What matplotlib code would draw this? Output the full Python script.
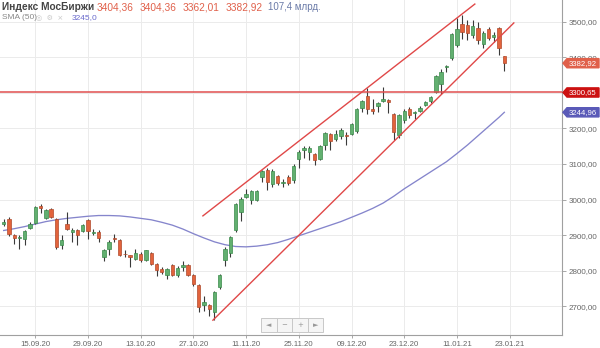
import matplotlib
matplotlib.use('Agg')
import matplotlib.pyplot as plt
from matplotlib.patches import Polygon, Rectangle

plt.rcParams['font.family'] = ['Liberation Sans', 'DejaVu Sans']

# ---------------- data ----------------
idx = list(range(-6, 90))
opens = [2930, 2946, 2899, 2891, 2890, 2920, 2935, 2983, 2949, 2974,
         2946, 2872, 2932, 2910, 2913, 2912, 2943, 2906, 2910, 2838,
         2861, 2893, 2885, 2848, 2843, 2834, 2847, 2830, 2850, 2819,
         2806, 2789, 2815, 2788, 2810, 2816, 2787, 2760, 2705, 2703,
         2685, 2754, 2829, 2850, 2913, 2964, 3007, 2998, 3000, 3063,
         3083, 3043, 3065, 3048, 3064, 3054, 3114, 3140, 3133, 3128,
         3114, 3152, 3184, 3170, 3177, 3182, 3184, 3192, 3258, 3292,
         3254, 3264, 3278, 3280, 3241, 3180, 3222, 3255, 3243, 3250,
         3266, 3276, 3301, 3325, 3372, 3397, 3435, 3494, 3491, 3461,
         3481, 3437, 3478, 3456, 3481, 3404.36]
highs = [2945, 2950, 2903, 2900, 2914, 2936, 2981, 2988, 2974, 2976,
         2948, 2899, 2964, 2920, 2916, 2932, 2946, 2918, 2913, 2860,
         2885, 2903, 2888, 2857, 2845, 2861, 2852, 2859, 2853, 2822,
         2810, 2808, 2818, 2812, 2826, 2819, 2790, 2762, 2730, 2706,
         2742, 2792, 2866, 2897, 2991, 3007, 3030, 3028, 3028, 3083,
         3088, 3085, 3070, 3058, 3068, 3100, 3138, 3149, 3150, 3132,
         3152, 3190, 3188, 3194, 3201, 3190, 3215, 3258, 3280, 3314,
         3282, 3275, 3316, 3283, 3244, 3240, 3255, 3260, 3250, 3262,
         3278, 3292, 3350, 3367, 3378, 3468, 3509, 3517, 3503, 3503,
         3498, 3472, 3484, 3470, 3484, 3404.36]
lows = [2925, 2897, 2876, 2862, 2873, 2916, 2932, 2963, 2946, 2948,
        2861, 2862, 2914, 2880, 2871, 2908, 2890, 2899, 2882, 2828,
        2845, 2882, 2841, 2838, 2810, 2829, 2824, 2826, 2815, 2786,
        2791, 2777, 2784, 2782, 2800, 2786, 2758, 2684, 2688, 2672,
        2662, 2750, 2812, 2838, 2908, 2941, 3004, 2988, 2995, 3049,
        3027, 3035, 3041, 3035, 3040, 3046, 3089, 3117, 3110, 3096,
        3110, 3140, 3140, 3165, 3170, 3152, 3180, 3188, 3245, 3240,
        3239, 3245, 3273, 3242, 3168, 3173, 3215, 3230, 3226, 3245,
        3262, 3270, 3298, 3297, 3358, 3393, 3428, 3451, 3447, 3455,
        3437, 3425, 3448, 3442, 3405, 3362.01]
closes = [2936, 2904, 2891, 2896, 2911, 2931, 2978, 2976, 2971, 2951,
          2866, 2885, 2918, 2914, 2899, 2929, 2911, 2909, 2891, 2857,
          2882, 2890, 2845, 2846, 2839, 2850, 2829, 2857, 2819, 2803,
          2797, 2805, 2788, 2807, 2816, 2789, 2764, 2698, 2712, 2692,
          2740, 2789, 2861, 2894, 2988, 3002, 3016, 3025, 3025, 3080,
          3049, 3081, 3046, 3050, 3047, 3095, 3133, 3144, 3145, 3110,
          3149, 3186, 3164, 3183, 3194, 3178, 3211, 3255, 3276, 3255,
          3250, 3270, 3281, 3274, 3189, 3236, 3250, 3236, 3246, 3257,
          3273, 3289, 3348, 3358, 3376, 3465, 3480, 3470, 3468, 3487,
          3449, 3468, 3453, 3463, 3425, 3382.92]

sma_idx = [-6, -4, -2, 0, 2, 4, 6, 8, 10, 12, 14, 16, 18, 20, 22, 24, 26,
           28, 30, 32, 34, 36, 38, 40, 42, 44, 46, 48, 50, 52, 54, 56, 58,
           60, 62, 64, 66, 68, 70, 72, 74, 76, 78, 80, 82, 84, 86, 88, 89]
sma_val = [2913, 2918, 2924, 2931, 2938, 2943, 2947, 2950, 2953, 2955,
           2955, 2954, 2951, 2947, 2943, 2936, 2928, 2917, 2904, 2892,
           2881, 2873, 2868, 2867, 2869, 2873, 2879, 2888, 2898, 2908,
           2918, 2928, 2938, 2950, 2962, 2975, 2990, 3009, 3030, 3049,
           3068, 3087, 3106, 3129, 3153, 3179, 3205, 3231, 3244.96]

upper_x = [31.8, 83.4]
upper_y = [2954, 3549]
lower_x = [33.7, 90.8]
lower_y = [2661, 3496]
hline_val = 3300.65

date_pos = [0, 10, 20, 30, 40, 50, 60, 70, 80, 90]
date_labels = ['15.09.20', '29.09.20', '13.10.20', '27.10.20', '11.11.20',
               '25.11.20', '09.12.20', '23.12.20', '11.01.21', '23.01.21']
y_ticks = [2700, 2800, 2900, 3000, 3100, 3200, 3300, 3400, 3500]

# ---------------- figure ----------------
W, H = 600, 348
fig = plt.figure(figsize=(6, 3.48), dpi=100)
ax = fig.add_axes([0, 13 / H, 562 / W, 335 / H])
ax.set_xlim(-6.70, 99.94)
ax.set_ylim(2619.4, 3560.4)

ax.set_yticks(y_ticks)
ax.set_yticklabels([f'{v:.2f}'.replace('.', ',') for v in y_ticks])
ax.set_xticks(date_pos)
ax.set_xticklabels(date_labels)
ax.yaxis.tick_right()
ax.tick_params(axis='y', length=3, width=0.6, color='#999999', pad=1.5,
               labelsize=5.8, labelcolor='#666666')
ax.tick_params(axis='x', length=2, width=0.6, color='#999999', pad=2,
               labelsize=5.6, labelcolor='#666666')
ax.grid(True, color='#ebebeb', lw=0.7)
ax.set_axisbelow(True)
for s in ['top', 'left']:
    ax.spines[s].set_visible(False)
for s in ['right', 'bottom']:
    ax.spines[s].set_color('#a0a0a0')
    ax.spines[s].set_linewidth(0.8)

# SMA
ax.plot(sma_idx, sma_val, color='#8585cc', lw=0.95, zorder=2)

# candles
for i, o, h, l, c in zip(idx, opens, highs, lows, closes):
    up = c >= o
    fc = '#62b070' if up else '#e2633c'
    ec = '#3b8a4b' if up else '#b04a2c'
    ax.vlines(i, l, h, color='#3a3a3a', lw=0.8, zorder=3)
    lo = min(o, c)
    hgt = max(abs(c - o), 2.5)
    ax.bar(i, hgt, bottom=lo - (hgt - abs(c - o)) / 2, width=0.64,
           color=fc, edgecolor=ec, linewidth=0.5, zorder=4)

# channel + horizontal level
ax.plot(upper_x, upper_y, color='#e04848', lw=1.0, zorder=5)
ax.plot(lower_x, lower_y, color='#e04848', lw=1.0, zorder=5)
ax.axhline(hline_val, color='#e05050', lw=1.1, zorder=5)


# price tags on the right axis
def tag(val, color, text):
    yd = ax.transData.transform((0, val))[1]
    yc = yd / fig.dpi / fig.get_figheight() * H
    x0, x1, x2 = 563, 567, 599
    hh = 4.6
    pts = [(x0, yc), (x1, yc + hh), (x2, yc + hh), (x2, yc - hh), (x1, yc - hh)]
    pts = [(px / W, py / H) for px, py in pts]
    fig.add_artist(Polygon(pts, closed=True, transform=fig.transFigure,
                           facecolor=color, edgecolor=color, zorder=10))
    fig.text((x1 + x2) / 2 / W, yc / H, text, color='white', fontsize=5.6,
             ha='center', va='center', zorder=11)


fig.canvas.draw()
tag(closes[-1], '#e0604a', f'{closes[-1]:.2f}'.replace('.', ','))
tag(hline_val, '#cc1111', f'{hline_val:.2f}'.replace('.', ','))
tag(sma_val[-1], '#5a5ab8', f'{sma_val[-1]:.2f}'.replace('.', ','))

# header texts
def ftxt(x, y, s, **kw):
    fig.text(x / W, 1 - y / H, s, va='center', ha='left', **kw)

ftxt(2, 7, 'Индекс МосБиржи', fontsize=7.3, fontweight='bold', color='#444444')
vals = [opens[-1], highs[-1], lows[-1], closes[-1]]
xs = [97, 140, 183, 226]
for x, v in zip(xs, vals):
    ftxt(x, 7, f'{v:.2f}'.replace('.', ','), fontsize=7.3, color='#e0604a')
ftxt(268, 7, '107,4 млрд.', fontsize=7.0, color='#6a7aa8')
ftxt(2, 17.5, 'SMA (50)', fontsize=6.0, color='#888888')
ftxt(36, 17.5, '◎  ⚙  ×', fontsize=5.0, color='#c8c8c8', family=['DejaVu Sans'])
ftxt(72, 17.5, f'{3245.0:.1f}'.replace('.', ','), fontsize=6.0, color='#6a6acc')

# navigation buttons
bx0, by0, bw, bh = 261, 317.5, 15.5, 14.5
syms = ['◄', '−', '+', '►']
for k, s in enumerate(syms):
    x = bx0 + k * bw
    fig.add_artist(Rectangle((x / W, 1 - (by0 + bh) / H), bw / W, bh / H,
                             transform=fig.transFigure, facecolor='#f5f5f5',
                             edgecolor='#c8c8c8', lw=0.7, zorder=12))
    fig.text((x + bw / 2) / W, 1 - (by0 + bh / 2) / H, s, fontsize=5,
             color='#999999', ha='center', va='center', zorder=13,
             family=['DejaVu Sans'])

fig.savefig('out.png', dpi=100)
